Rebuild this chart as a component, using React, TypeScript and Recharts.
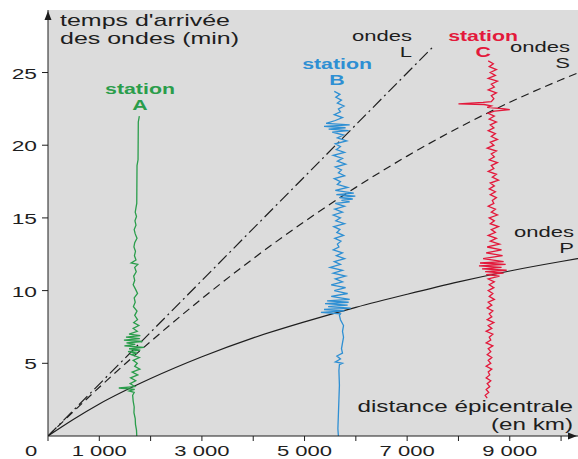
import { ComposedChart, XAxis, YAxis, Line, CartesianGrid, ReferenceDot } from "recharts";

const FONT = '"Liberation Sans", Arial, Helvetica, sans-serif';
const INK = "#1e1e1e";
const GREEN = "#2a9d4b";
const BLUE = "#2e8fd3";
const RED = "#e3193b";
const SX = 1.47; // the original lettering is stretched sideways

const xMax = 10330;
const yMax = 29.3;
const xTicks = [0, 1000, 2000, 3000, 4000, 5000, 6000, 7000, 8000, 9000, 10000];
const xLabels = [0, 1000, 3000, 5000, 7000, 9000];
const yTicks = [5, 10, 15, 20, 25];

// travel-time curves: [distance km, time min]
const pWave: [number, number][] = [
  [0, 0], [500, 1.15], [1000, 2.2], [2000, 3.95], [3000, 5.45], [4000, 6.75], [5000, 7.85],
  [6000, 8.85], [7000, 9.75], [8000, 10.6], [9000, 11.35], [10000, 12.0], [10330, 12.2],
];
const sWave: [number, number][] = [
  [0, 0], [1000, 3.35], [2000, 6.5], [3000, 9.45], [4000, 12.2], [5000, 14.75], [6000, 17.1],
  [7000, 19.25], [8000, 21.2], [9000, 22.95], [10000, 24.5], [10330, 24.97],
];
const lWave: [number, number][] = [[0, 0], [7485, 26.7]];

// seismograms: [time min, distance km]
const stationA: [number, number][] = [
  [22.0, 1780], [21.8, 1770], [21.6, 1760], [19.0, 1755], [18.6, 1735], [16.0, 1730], [15.7, 1715],
  [15.4, 1700], [15.1, 1725], [14.8, 1695], [14.5, 1715], [14.2, 1680], [13.9, 1700], [13.6, 1735],
  [13.3, 1690], [13.0, 1675], [12.7, 1705], [12.4, 1685], [12.1, 1715], [11.9, 1620], [11.8, 1750],
  [11.6, 1690], [11.3, 1720], [11.0, 1670], [10.7, 1690], [10.4, 1660], [10.1, 1705], [9.8, 1745],
  [9.5, 1680], [9.2, 1700], [8.9, 1665], [8.6, 1735], [8.3, 1690], [8.0, 1745], [7.8, 1670],
  [7.6, 1770], [7.4, 1660], [7.2, 1740], [7.0, 1580], [6.9, 1800], [6.8, 1520], [6.7, 1790],
  [6.6, 1480], [6.5, 1840], [6.4, 1530], [6.3, 1700], [6.2, 1490], [6.1, 1870], [6.0, 1580],
  [5.9, 1800], [5.8, 1560], [5.7, 1740], [5.6, 1620], [5.4, 1780], [5.2, 1660], [5.0, 1740],
  [4.8, 1690], [4.6, 1790], [4.4, 1640], [4.2, 1750], [4.0, 1610], [3.8, 1710], [3.6, 1600],
  [3.4, 1690], [3.3, 1380], [3.2, 1690], [3.1, 1580], [3.0, 1680], [2.8, 1650], [2.4, 1660],
  [2.0, 1680], [1.6, 1675], [1.2, 1700], [0.8, 1705], [0.4, 1725], [0.0, 1730],
];
const stationB: [number, number][] = [
  [23.7, 5580], [23.5, 5690], [23.3, 5610], [23.1, 5720], [22.9, 5640], [22.7, 5770], [22.5, 5660],
  [22.3, 5700], [22.1, 5580], [21.9, 5740], [21.7, 5600], [21.5, 5420], [21.4, 5880], [21.3, 5380],
  [21.2, 5800], [21.1, 5470], [21.0, 5860], [20.9, 5540], [20.7, 5760], [20.5, 5640], [20.3, 5820],
  [20.1, 5600], [19.9, 5700], [19.7, 5620], [19.5, 5780], [19.3, 5560], [19.1, 5740], [18.9, 5640],
  [18.7, 5800], [18.5, 5600], [18.3, 5720], [18.1, 5660], [17.9, 5780], [17.7, 5580], [17.5, 5700],
  [17.3, 5640], [17.1, 5840], [16.9, 5600], [16.7, 5960], [16.6, 5620], [16.5, 5990], [16.4, 5680],
  [16.3, 5940], [16.2, 5720], [16.1, 5880], [16.0, 5600], [15.8, 5780], [15.6, 5590], [15.4, 5740],
  [15.2, 5560], [15.0, 5700], [14.8, 5610], [14.6, 5780], [14.4, 5570], [14.2, 5690], [14.0, 5630],
  [13.8, 5760], [13.6, 5590], [13.4, 5710], [13.2, 5640], [13.0, 5670], [12.8, 5560], [12.6, 5740],
  [12.4, 5620], [12.2, 5780], [12.0, 5580], [11.8, 5700], [11.6, 5500], [11.4, 5740], [11.2, 5560],
  [11.0, 5800], [10.8, 5600], [10.6, 5740], [10.4, 5520], [10.2, 5800], [10.0, 5580], [9.8, 5840],
  [9.6, 5520], [9.4, 5880], [9.3, 5440], [9.2, 5860], [9.1, 5400], [9.0, 5840], [8.9, 5460],
  [8.8, 5900], [8.7, 5380], [8.6, 5780], [8.5, 5320], [8.4, 5700], [8.3, 5680], [8.0, 5700],
  [7.6, 5760], [7.2, 5740], [6.8, 5760], [6.4, 5740], [6.0, 5720], [5.7, 5740], [5.5, 5630],
  [5.3, 5700], [5.1, 5600], [5.0, 5740], [4.9, 5680], [4.5, 5670], [3.5, 5680], [2.5, 5670],
  [1.5, 5660], [0.5, 5650], [0.0, 5660],
];
const stationC: [number, number][] = [
  [25.8, 8580], [25.6, 8680], [25.4, 8600], [25.2, 8740], [25.0, 8620], [24.8, 8720], [24.6, 8580],
  [24.4, 8760], [24.2, 8640], [24.0, 8700], [23.8, 8580], [23.6, 8740], [23.4, 8640], [23.2, 8690],
  [23.0, 8640], [22.95, 8480], [22.85, 8000], [22.8, 8500], [22.7, 8640], [22.6, 8560], [22.5, 8900],
  [22.45, 9000], [22.35, 8700], [22.2, 8580], [22.0, 8700], [21.8, 8600], [21.6, 8740], [21.4, 8620],
  [21.2, 8690], [21.0, 8580], [20.8, 8720], [20.6, 8640], [20.4, 8760], [20.2, 8620], [20.0, 8690],
  [19.8, 8560], [19.6, 8740], [19.4, 8640], [19.2, 8700], [19.0, 8600], [18.8, 8760], [18.6, 8640],
  [18.4, 8690], [18.2, 8580], [18.0, 8740], [17.8, 8660], [17.6, 8780], [17.4, 8620], [17.2, 8700],
  [17.0, 8600], [16.8, 8720], [16.6, 8620], [16.4, 8740], [16.2, 8660], [16.0, 8690], [15.8, 8580],
  [15.6, 8720], [15.4, 8640], [15.2, 8760], [15.0, 8600], [14.8, 8700], [14.6, 8620], [14.4, 8780],
  [14.2, 8640], [14.0, 8720], [13.8, 8580], [13.6, 8740], [13.4, 8620], [13.2, 8800], [13.0, 8560],
  [12.8, 8840], [12.6, 8540], [12.4, 8860], [12.2, 8480], [12.0, 8880], [11.9, 8420], [11.8, 8920],
  [11.7, 8400], [11.6, 8840], [11.5, 8460], [11.4, 8940], [11.3, 8520], [11.2, 8880], [11.1, 8540],
  [11.0, 8800], [10.8, 8580], [10.6, 8700], [10.4, 8600], [10.2, 8690], [10.0, 8580], [9.8, 8670],
  [9.6, 8600], [9.4, 8700], [9.2, 8580], [9.0, 8650], [8.8, 8560], [8.6, 8670], [8.4, 8600],
  [8.2, 8650], [8.0, 8560], [7.8, 8690], [7.6, 8580], [7.4, 8650], [7.2, 8540], [7.0, 8670],
  [6.8, 8600], [6.6, 8630], [6.4, 8540], [6.2, 8670], [6.0, 8580], [5.8, 8630], [5.6, 8560],
  [5.4, 8650], [5.2, 8580], [5.0, 8630], [4.8, 8540], [4.6, 8650], [4.4, 8580], [4.2, 8610],
  [4.0, 8540], [3.8, 8630], [3.6, 8560], [3.4, 8610], [3.2, 8540], [3.0, 8590], [2.8, 8520],
  [2.6, 8560],
];

// text placed in data coordinates
const notes: { d: number; t: number; text: string; anchor: string; size: number; bold?: boolean; color: string }[] = [
  { d: 234, t: 28.2, text: "temps d'arrivée", anchor: "start", size: 17, color: INK },
  { d: 234, t: 26.96, text: "des ondes (min)", anchor: "start", size: 17, color: INK },
  { d: 10234, t: 1.62, text: "distance épicentrale", anchor: "end", size: 16.5, color: INK },
  { d: 10234, t: 0.41, text: "(en km)", anchor: "end", size: 16.5, color: INK },
  { d: 7096, t: 27.15, text: "ondes", anchor: "end", size: 15, color: INK },
  { d: 7096, t: 26.07, text: "L", anchor: "end", size: 15, color: INK },
  { d: 10175, t: 26.39, text: "ondes", anchor: "end", size: 15, color: INK },
  { d: 10175, t: 25.31, text: "S", anchor: "end", size: 15, color: INK },
  { d: 10253, t: 13.67, text: "ondes", anchor: "end", size: 15, color: INK },
  { d: 10253, t: 12.6, text: "P", anchor: "end", size: 15, color: INK },
  { d: 1793, t: 23.5, text: "station", anchor: "middle", size: 14.5, bold: true, color: GREEN },
  { d: 1793, t: 22.42, text: "A", anchor: "middle", size: 14.5, bold: true, color: GREEN },
  { d: 5634, t: 25.22, text: "station", anchor: "middle", size: 14.5, bold: true, color: BLUE },
  { d: 5634, t: 24.14, text: "B", anchor: "middle", size: 14.5, bold: true, color: BLUE },
  { d: 8480, t: 27.15, text: "station", anchor: "middle", size: 14.5, bold: true, color: RED },
  { d: 8480, t: 26.07, text: "C", anchor: "middle", size: 14.5, bold: true, color: RED },
];

const curve = (pts: [number, number][]) => pts.map(([d, t]) => ({ d, t }));
const trace = (pts: [number, number][]) => pts.map(([t, d]) => ({ d, t }));

function StretchText({ x, y, anchor = "start", size = 15.5, bold = false, color = INK, children }: any) {
  return (
    <text
      transform={`translate(${x},${y}) scale(${SX},1)`}
      textAnchor={anchor}
      fontSize={size}
      fontWeight={bold ? 700 : 400}
      fill={color}
      fontFamily={FONT}
    >
      {children}
    </text>
  );
}

function XTick({ x, y, payload }: any) {
  const v = payload.value;
  if (!xLabels.includes(v)) return <g />;
  const label = v === 0 ? "0" : `${v / 1000} 000`;
  return (
    <StretchText x={v === 0 ? x - 17 : x} y={y + 13} anchor="middle" size={15}>
      {label}
    </StretchText>
  );
}

function YTick({ x, y, payload }: any) {
  return (
    <StretchText x={x - 3} y={y + 6} anchor="end" size={15.5}>
      {payload.value}
    </StretchText>
  );
}

export default function App() {
  return (
    <div style={{ position: "absolute", left: 0, top: 0, background: "#fff" }}>
      <ComposedChart width={578} height={459} margin={{ top: 10, right: 0, bottom: 0, left: 0 }}>
        <CartesianGrid fill="#dcdcdc" horizontal={false} vertical={false} />
        <XAxis
          type="number"
          dataKey="d"
          domain={[0, xMax]}
          allowDataOverflow
          ticks={xTicks}
          interval={0}
          height={23}
          tickSize={5}
          stroke={INK}
          tick={<XTick />}
        />
        <YAxis
          type="number"
          domain={[0, yMax]}
          allowDataOverflow
          ticks={yTicks}
          interval={0}
          width={48}
          tickSize={6}
          stroke={INK}
          tick={<YTick />}
        />

        <Line data={curve(pWave)} dataKey="t" type="monotone" stroke={INK} strokeWidth={1.2} dot={false} activeDot={false} isAnimationActive={false} />
        <Line data={curve(sWave)} dataKey="t" type="monotone" stroke={INK} strokeWidth={1.2} strokeDasharray="8 5" dot={false} activeDot={false} isAnimationActive={false} />
        <Line data={curve(lWave)} dataKey="t" type="linear" stroke={INK} strokeWidth={1.2} strokeDasharray="12 4 2 4" dot={false} activeDot={false} isAnimationActive={false} />

        <Line data={trace(stationA)} dataKey="t" type="linear" stroke={GREEN} strokeWidth={1.3} dot={false} activeDot={false} isAnimationActive={false} />
        <Line data={trace(stationB)} dataKey="t" type="linear" stroke={BLUE} strokeWidth={1.3} dot={false} activeDot={false} isAnimationActive={false} />
        <Line data={trace(stationC)} dataKey="t" type="linear" stroke={RED} strokeWidth={1.3} dot={false} activeDot={false} isAnimationActive={false} />

        <ReferenceDot
          x={xMax}
          y={0}
          r={0}
          ifOverflow="visible"
          shape={(p: any) => <path d={`M${p.cx - 1},${p.cy} l-9,-3.5 l0,7 z`} fill={INK} />}
        />
        <ReferenceDot
          x={0}
          y={yMax}
          r={0}
          ifOverflow="visible"
          shape={(p: any) => <path d={`M${p.cx},${p.cy + 1} l-3.5,9 l7,0 z`} fill={INK} />}
        />

        {notes.map((n, i) => (
          <ReferenceDot
            key={i}
            x={n.d}
            y={n.t}
            r={0}
            ifOverflow="visible"
            shape={(p: any) => (
              <StretchText x={p.cx} y={p.cy} anchor={n.anchor} size={n.size} bold={n.bold} color={n.color}>
                {n.text}
              </StretchText>
            )}
          />
        ))}
      </ComposedChart>
    </div>
  );
}
